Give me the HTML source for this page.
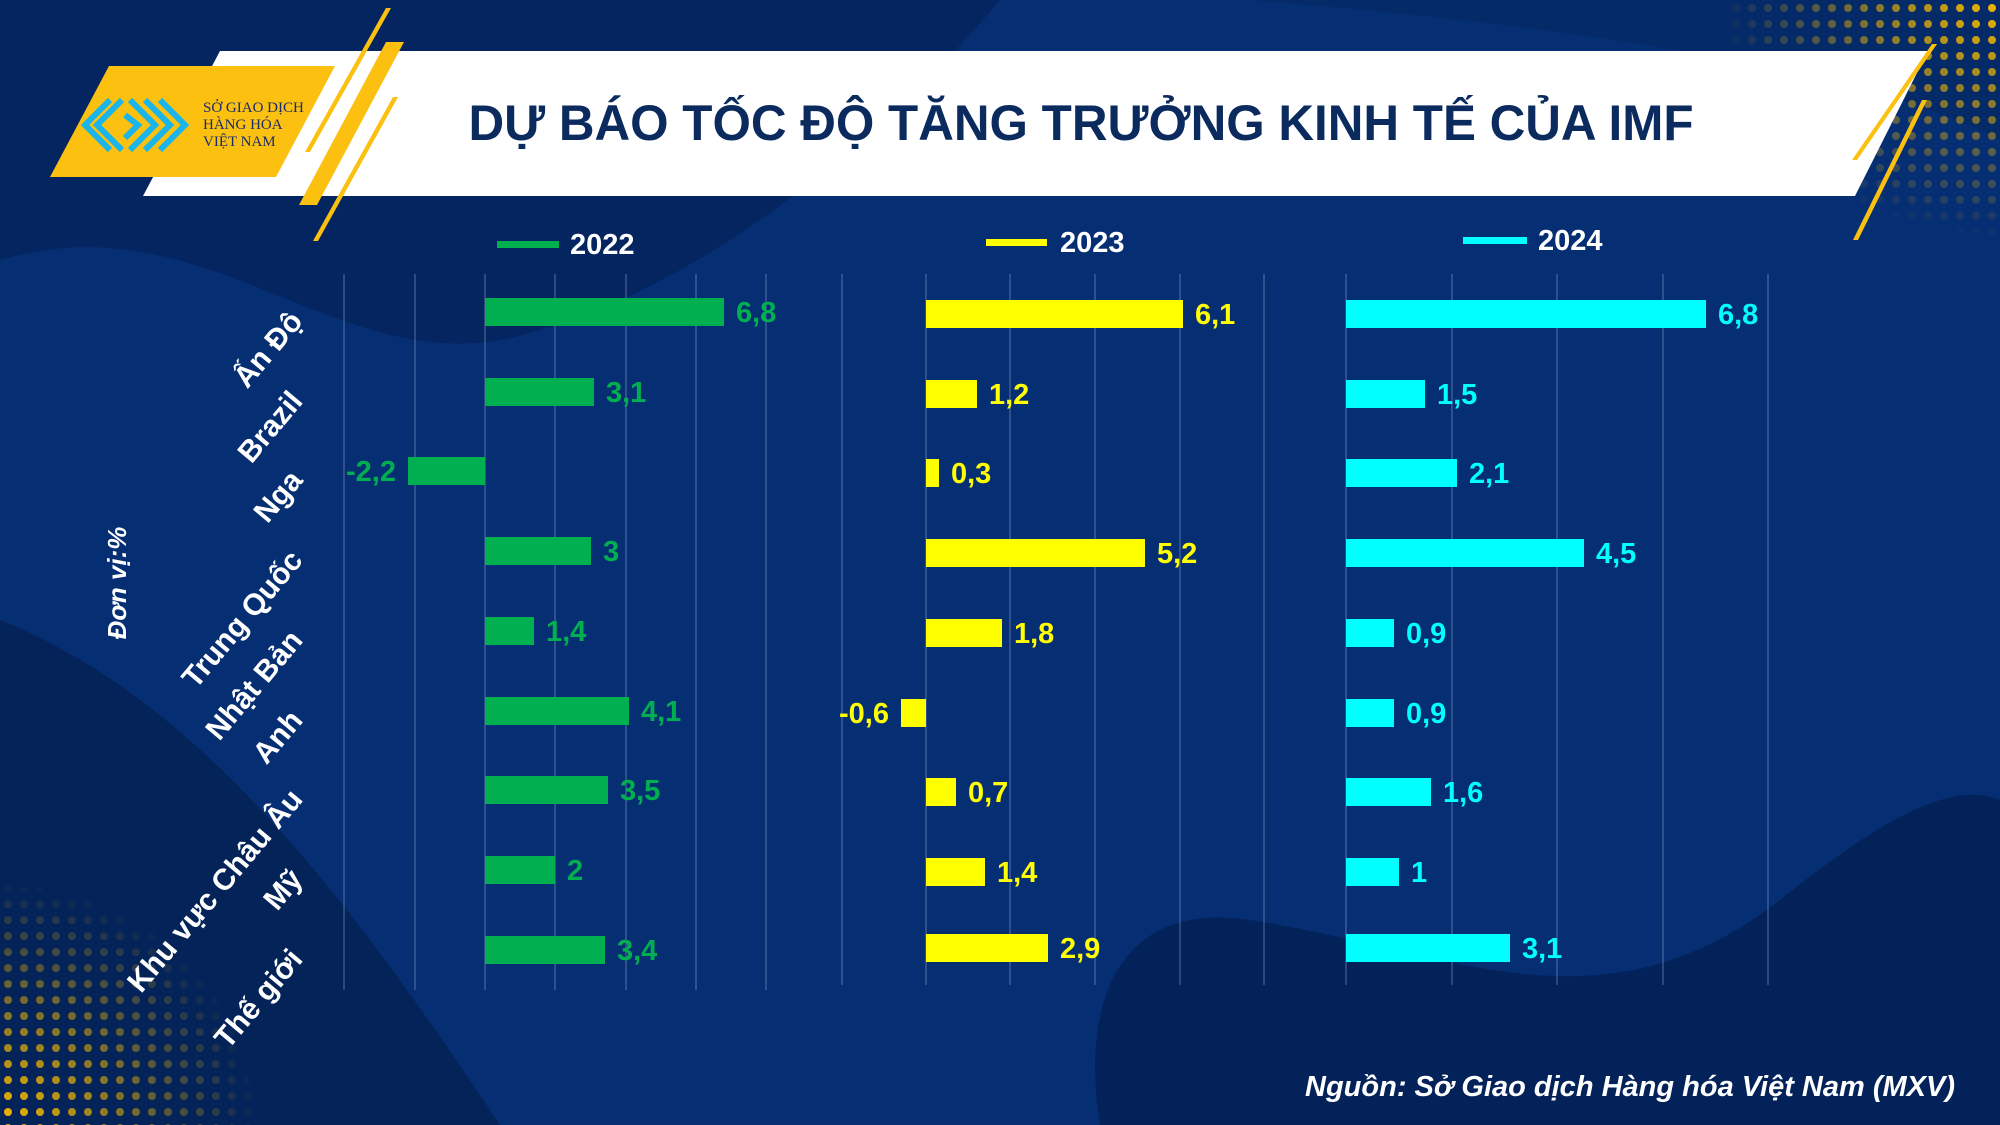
<!DOCTYPE html>
<html><head><meta charset="utf-8"><style>
html,body{margin:0;padding:0;width:2000px;height:1125px;overflow:hidden;background:#062e73;}
svg{display:block}
text{font-family:"Liberation Sans Narrow","Liberation Sans",sans-serif;font-weight:bold}
</style></head><body>
<svg width="2000" height="1125" viewBox="0 0 2000 1125" xmlns="http://www.w3.org/2000/svg">
<defs>
<pattern id="dots" width="16" height="16" patternUnits="userSpaceOnUse"><circle cx="8" cy="8" r="4" fill="#f5b800"/></pattern>
<radialGradient id="fadeTR" cx="1" cy="0" r="1"><stop offset="0" stop-color="#fff"/><stop offset="1" stop-color="#000"/></radialGradient>
<mask id="mTR"><rect x="1720" y="0" width="280" height="240" fill="url(#fadeTR)"/></mask>
<radialGradient id="fadeBL" cx="0" cy="1" r="1"><stop offset="0" stop-color="#fff"/><stop offset="1" stop-color="#000"/></radialGradient>
<mask id="mBL"><rect x="0" y="880" width="260" height="245" fill="url(#fadeBL)"/></mask>
</defs>
<rect width="2000" height="1125" fill="#062e73"/>
<path d="M0 0 H1000 C900 120 700 300 500 340 C330 370 200 200 0 260Z" fill="#04255f"/>
<path d="M0 620 C200 700 350 900 500 1125 H0Z" fill="#032359"/>
<path d="M1100 1125 C1080 1000 1120 900 1250 920 C1450 950 1600 1040 1780 900 C1880 820 1950 780 2000 800 V1125Z" fill="#03225a"/>
<path d="M1250 0 H2000 V140 C1850 60 1500 20 1250 0Z" fill="#052a68"/>
<rect x="1720" y="0" width="280" height="240" fill="url(#dots)" mask="url(#mTR)"/>
<rect x="0" y="880" width="260" height="245" fill="url(#dots)" mask="url(#mBL)"/>
<polygon points="220,51 1928,51 1855,196 143,196" fill="#ffffff"/>
<polygon points="109,66 335,66 276,177 50,177" fill="#fcc010"/>
<polygon points="386,42 404,42 317,205 299,205" fill="#fcc010"/>
<polygon points="386,8 391,8 310,152 305,152" fill="#fcc010"/>
<polygon points="393,97 398,97 318,241 313,241" fill="#fcc010"/>
<polygon points="1932,44 1937,44 1857,160 1852,160" fill="#fcc010"/>
<polygon points="1922,100 1927,100 1858,240 1853,240" fill="#fcc010"/>
<g fill="none" stroke="#1ab5ea" stroke-width="6">
<path d="M110 100 L85 125 L110 150"/><path d="M122 100 L97 125 L122 150"/>
<path d="M130 100 L155 125 L130 150"/><path d="M145 100 L170 125 L145 150"/>
<path d="M160 100 L185 125 L160 150"/><path d="M125 115 L138 125 L125 138"/>
</g>
<text x="203" y="112" style="font-family:'Liberation Serif',serif;font-weight:normal" font-size="15" fill="#1a2d6b">SỞ GIAO DỊCH</text>
<text x="203" y="129" style="font-family:'Liberation Serif',serif;font-weight:normal" font-size="15" fill="#1a2d6b">HÀNG HÓA</text>
<text x="203" y="146" style="font-family:'Liberation Serif',serif;font-weight:normal" font-size="15" fill="#1a2d6b">VIỆT NAM</text>
<text x="1081" y="140" text-anchor="middle" font-size="50" fill="#0b2a5e" textLength="1225" lengthAdjust="spacingAndGlyphs" style="font-family:'Liberation Sans',sans-serif;font-weight:bold">DỰ BÁO TỐC ĐỘ TĂNG TRƯỞNG KINH TẾ CỦA IMF</text>
<rect x="497" y="241" width="62" height="7" fill="#00b050"/><text x="570" y="254" font-size="29" fill="#fff">2022</text>
<rect x="986" y="239" width="61" height="7" fill="#ffff00"/><text x="1060" y="252" font-size="29" fill="#fff">2023</text>
<rect x="1463" y="237" width="64" height="7" fill="#00ffff"/><text x="1538" y="250" font-size="29" fill="#fff">2024</text>
<g stroke="#8ea0c8" stroke-width="1" opacity="0.6">
<line x1="344" y1="274" x2="344" y2="990"/><line x1="415" y1="274" x2="415" y2="990"/><line x1="485" y1="274" x2="485" y2="990"/><line x1="555" y1="274" x2="555" y2="990"/><line x1="626" y1="274" x2="626" y2="990"/><line x1="696" y1="274" x2="696" y2="990"/><line x1="766" y1="274" x2="766" y2="990"/>
<line x1="842" y1="274" x2="842" y2="985"/><line x1="926" y1="274" x2="926" y2="985"/><line x1="1010" y1="274" x2="1010" y2="985"/><line x1="1095" y1="274" x2="1095" y2="985"/><line x1="1180" y1="274" x2="1180" y2="985"/><line x1="1264" y1="274" x2="1264" y2="985"/>
<line x1="1346" y1="274" x2="1346" y2="985"/><line x1="1452" y1="274" x2="1452" y2="985"/><line x1="1557" y1="274" x2="1557" y2="985"/><line x1="1663" y1="274" x2="1663" y2="985"/><line x1="1768" y1="274" x2="1768" y2="985"/>
</g>
<g fill="#00b050" font-size="29">
<rect x="485" y="298" width="239" height="28"/><text x="736" y="322">6,8</text>
<rect x="485" y="378" width="109" height="28"/><text x="606" y="402">3,1</text>
<rect x="408" y="457" width="77" height="28"/><text x="396" y="481" text-anchor="end">-2,2</text>
<rect x="485" y="537" width="106" height="28"/><text x="603" y="561">3</text>
<rect x="485" y="617" width="49" height="28"/><text x="546" y="641">1,4</text>
<rect x="485" y="697" width="144" height="28"/><text x="641" y="721">4,1</text>
<rect x="485" y="776" width="123" height="28"/><text x="620" y="800">3,5</text>
<rect x="485" y="856" width="70" height="28"/><text x="567" y="880">2</text>
<rect x="485" y="936" width="120" height="28"/><text x="617" y="960">3,4</text>
</g>
<g fill="#ffff00" font-size="29">
<rect x="926" y="300" width="257" height="28"/><text x="1195" y="324">6,1</text>
<rect x="926" y="380" width="51" height="28"/><text x="989" y="404">1,2</text>
<rect x="926" y="459" width="13" height="28"/><text x="951" y="483">0,3</text>
<rect x="926" y="539" width="219" height="28"/><text x="1157" y="563">5,2</text>
<rect x="926" y="619" width="76" height="28"/><text x="1014" y="643">1,8</text>
<rect x="901" y="699" width="25" height="28"/><text x="889" y="723" text-anchor="end">-0,6</text>
<rect x="926" y="778" width="30" height="28"/><text x="968" y="802">0,7</text>
<rect x="926" y="858" width="59" height="28"/><text x="997" y="882">1,4</text>
<rect x="926" y="934" width="122" height="28"/><text x="1060" y="958">2,9</text>
</g>
<g fill="#00ffff" font-size="29">
<rect x="1346" y="300" width="360" height="28"/><text x="1718" y="324">6,8</text>
<rect x="1346" y="380" width="79" height="28"/><text x="1437" y="404">1,5</text>
<rect x="1346" y="459" width="111" height="28"/><text x="1469" y="483">2,1</text>
<rect x="1346" y="539" width="238" height="28"/><text x="1596" y="563">4,5</text>
<rect x="1346" y="619" width="48" height="28"/><text x="1406" y="643">0,9</text>
<rect x="1346" y="699" width="48" height="28"/><text x="1406" y="723">0,9</text>
<rect x="1346" y="778" width="85" height="28"/><text x="1443" y="802">1,6</text>
<rect x="1346" y="858" width="53" height="28"/><text x="1411" y="882">1</text>
<rect x="1346" y="934" width="164" height="28"/><text x="1522" y="958">3,1</text>
</g>
<g fill="#fff" font-size="30" text-anchor="end" style="font-family:'Liberation Sans',sans-serif;font-weight:bold">
<text transform="translate(304,322) rotate(-50)">Ấn Độ</text>
<text transform="translate(304,402) rotate(-50)">Brazil</text>
<text transform="translate(304,481) rotate(-50)">Nga</text>
<text transform="translate(304,561) rotate(-50)">Trung Quốc</text>
<text transform="translate(304,641) rotate(-50)">Nhật Bản</text>
<text transform="translate(304,721) rotate(-50)">Anh</text>
<text transform="translate(304,800) rotate(-50)">Khu vực Châu Âu</text>
<text transform="translate(304,880) rotate(-50)">Mỹ</text>
<text transform="translate(304,960) rotate(-50)">Thế giới</text>
</g>
<text transform="translate(126,583) rotate(-90)" text-anchor="middle" font-size="26" fill="#fff" font-style="italic" style="font-family:'Liberation Sans',sans-serif;font-weight:bold">Đơn vị:%</text>
<text x="1955" y="1096" text-anchor="end" font-size="29" fill="#fff" font-style="italic" style="font-family:'Liberation Sans',sans-serif;font-weight:bold">Nguồn: Sở Giao dịch Hàng hóa Việt Nam (MXV)</text>
</svg>
</body></html>
